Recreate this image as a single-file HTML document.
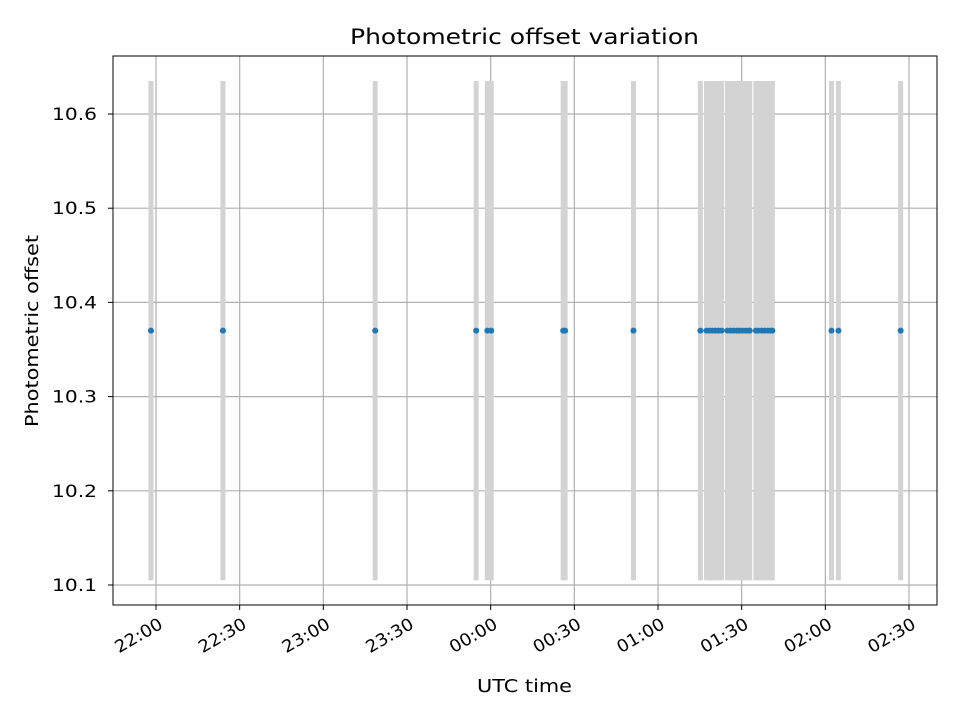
<!DOCTYPE html>
<html><head><meta charset="utf-8"><style>body{margin:0;background:#fff}svg text{font-family:"DejaVu Sans","Liberation Sans",sans-serif;fill:#000}</style></head>
<body>
<svg id="chart" width="960" height="720" xmlns="http://www.w3.org/2000/svg">
<rect width="960" height="720" fill="#fff"/>
<g id="grid"></g>
<g id="bars"></g>
<g id="pts"></g>
<rect x="113" y="56" width="824" height="549" fill="none" stroke="#000" stroke-width="1"/>
<g id="axes"></g>
<text x="350" y="44" font-size="21" textLength="349" lengthAdjust="spacingAndGlyphs">Photometric offset variation</text>
<text x="477" y="692" font-size="18" textLength="95" lengthAdjust="spacingAndGlyphs">UTC time</text>
<text transform="translate(38,427) rotate(-90)" font-size="18" textLength="192" lengthAdjust="spacingAndGlyphs">Photometric offset</text>
</svg>
<script>
// minutes after 22:00 UTC
const times=[-1.8,24,78.6,114.8,118.8,120.2,146,146.7,171.2,195.2,197.4,198.5,199.5,200.6,201.7,202.8,204.9,206.0,207.1,208.2,209.2,210.3,211.4,212.5,212.9,215.1,216.0,217.2,218.3,219.4,220.4,221.0,242.2,244.7,267.0];
const offsets=times.map(()=>10.37);
const errors=times.map(()=>0.265);
const xTickMinutes=[0,30,60,90,120,150,180,210,240,270];
const xTickLabels=["22:00","22:30","23:00","23:30","00:00","00:30","01:00","01:30","02:00","02:30"];
const yTicks=[10.1,10.2,10.3,10.4,10.5,10.6];
const NS="http://www.w3.org/2000/svg";
const xs=m=>156+m*(909-156)/270;
const ys=v=>585-(v-10.1)*(585-114)/0.5;
function mk(tag,a,p){const e=document.createElementNS(NS,tag);for(const k in a)e.setAttribute(k,a[k]);p.appendChild(e);return e;}
const grid=document.getElementById('grid'),axes=document.getElementById('axes'),bars=document.getElementById('bars'),pts=document.getElementById('pts');
xTickMinutes.forEach((m,i)=>{const x=xs(m);
 const g=mk('line',{x1:x,x2:x,y1:56,y2:605,stroke:'#b0b0b0','stroke-width':1.2},grid);
 
 const t=mk('line',{x1:x,x2:x,y1:605,y2:610,stroke:'#000'},axes);
 
 const l=mk('text',{transform:`translate(${x+2},${617}) rotate(-30)`,'font-size':17,'text-anchor':'end','dominant-baseline':'hanging',textLength:52,lengthAdjust:'spacingAndGlyphs'},axes);
 l.textContent=xTickLabels[i];
 
});
yTicks.forEach(v=>{const y=ys(v);
 const g=mk('line',{x1:113,x2:937,y1:y,y2:y,stroke:'#b0b0b0','stroke-width':1.2},grid);
 
 const t=mk('line',{x1:108,x2:113,y1:y,y2:y,stroke:'#000'},axes);
 
 const l=mk('text',{x:52,y:y+6,'font-size':17,textLength:45,lengthAdjust:'spacingAndGlyphs'},axes);
 l.textContent=v.toFixed(1);
 
});
times.forEach((m,i)=>{const x=xs(m);
 const b=mk('line',{x1:x,x2:x,y1:ys(offsets[i]+errors[i]),y2:ys(offsets[i]-errors[i]),stroke:'#d3d3d3','stroke-width':5},bars);
 
});
times.forEach((m,i)=>{
 const c=mk('circle',{cx:xs(m),cy:ys(offsets[i]),r:3,fill:'#1f77b4'},pts);
 
});
</script>
</body></html>
